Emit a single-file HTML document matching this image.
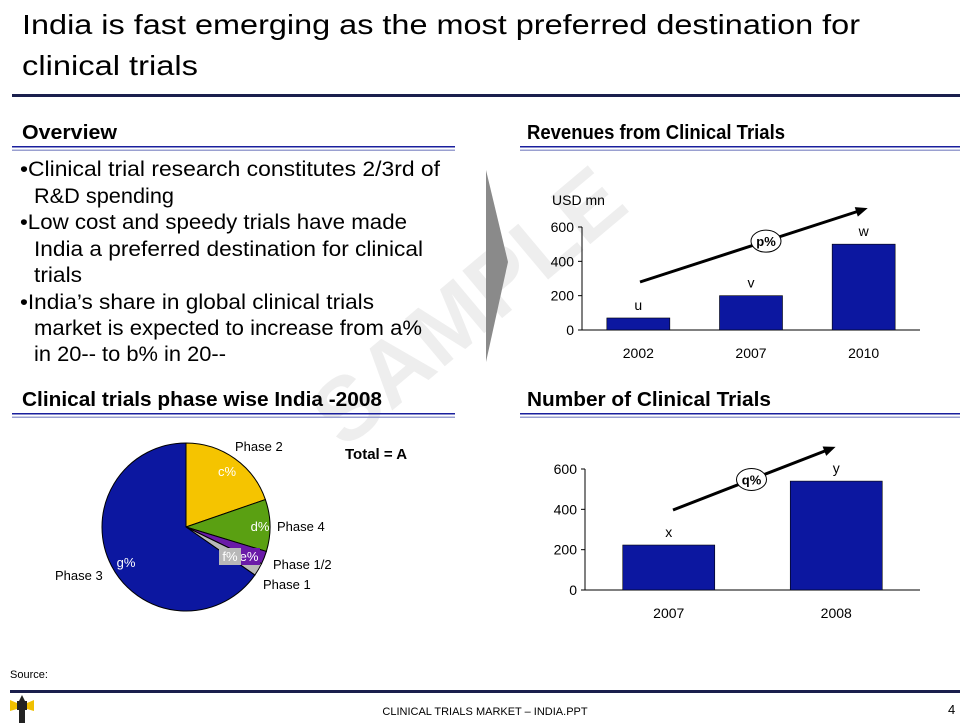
<!DOCTYPE html>
<html><head><meta charset="utf-8"><style>
body{margin:0;background:#fff}
svg{display:block;font-family:"Liberation Sans",sans-serif}
.c{font-family:"Liberation Sans Narrow","Liberation Sans",sans-serif}
</style></head><body>
<svg id="s" width="971" height="728" viewBox="0 0 971 728" xmlns="http://www.w3.org/2000/svg">
<text x="488" y="330" transform="rotate(-40 488 330)" text-anchor="middle" font-size="90" font-weight="bold" fill="#eeeeee">SAMPLE</text>
<text x="22" y="34" font-size="28" textLength="838" lengthAdjust="spacingAndGlyphs" fill="#000">India is fast emerging as the most preferred destination for</text>
<text x="22" y="75" font-size="28" textLength="176" lengthAdjust="spacingAndGlyphs" fill="#000">clinical trials</text>
<rect x="12" y="94" width="948" height="3" fill="#1a1f4d"/>

<text x="22" y="139" font-size="20" font-weight="bold" textLength="95" lengthAdjust="spacingAndGlyphs">Overview</text>
<text x="527" y="139" font-size="20" font-weight="bold" textLength="258" lengthAdjust="spacingAndGlyphs">Revenues from Clinical Trials</text>
<text x="22" y="406" font-size="20" font-weight="bold" textLength="360" lengthAdjust="spacingAndGlyphs">Clinical trials phase wise India -2008</text>
<text x="527" y="406" font-size="20" font-weight="bold" textLength="244" lengthAdjust="spacingAndGlyphs">Number of Clinical Trials</text>
<g fill="#1a1f9d">
<rect x="12" y="146" width="443" height="1.5"/><rect x="12" y="149.5" width="443" height="1.5" fill="#9aa0d0"/>
<rect x="520" y="146" width="440" height="1.5"/><rect x="520" y="149.5" width="440" height="1.5" fill="#9aa0d0"/>
<rect x="12" y="413" width="443" height="1.5"/><rect x="12" y="416.5" width="443" height="1.5" fill="#9aa0d0"/>
<rect x="520" y="413" width="440" height="1.5"/><rect x="520" y="416.5" width="440" height="1.5" fill="#9aa0d0"/>
</g>

<g font-size="21" fill="#000">
<text x="20" y="176" textLength="420" lengthAdjust="spacingAndGlyphs">•Clinical trial research constitutes 2/3rd of</text>
<text x="34" y="203" textLength="140" lengthAdjust="spacingAndGlyphs">R&amp;D spending</text>
<text x="20" y="229" textLength="387" lengthAdjust="spacingAndGlyphs">•Low cost and speedy trials have made</text>
<text x="34" y="256" textLength="389" lengthAdjust="spacingAndGlyphs">India a preferred destination for clinical</text>
<text x="34" y="282" textLength="48" lengthAdjust="spacingAndGlyphs">trials</text>
<text x="20" y="309" textLength="354" lengthAdjust="spacingAndGlyphs">•India’s share in global clinical trials</text>
<text x="34" y="335" textLength="388" lengthAdjust="spacingAndGlyphs">market is expected to increase from a%</text>
<text x="34" y="361" textLength="192" lengthAdjust="spacingAndGlyphs">in 20-- to b% in 20--</text>
</g>
<polygon points="486,170 508,262 486,362" fill="#8a8a8a"/>

<g id="rev"></g>
<g id="num"></g>
<g id="pie"></g>
<text x="345" y="459" font-size="15" font-weight="bold">Total = A</text>

<text x="10" y="678" font-size="11" class="c">Source:</text>
<rect x="10" y="690" width="950" height="3" fill="#1a1f4d"/>
<g><polygon points="10,700 17,703 17,709 10,711" fill="#f0c000"/><polygon points="34,700 27,703 27,709 34,711" fill="#f0c000"/><rect x="17" y="701" width="10" height="9" fill="#222"/><rect x="19" y="710" width="6" height="13" fill="#222"/><polygon points="22,695 19,701 25,701" fill="#222"/></g>
<text x="485" y="715" font-size="11" text-anchor="middle" class="c">CLINICAL TRIALS MARKET – INDIA.PPT</text>
<text x="948" y="714" font-size="13">4</text>
</svg>
<script>
const NS="http://www.w3.org/2000/svg";
const revCats=["2002","2007","2010"];
const revVals=[70,200,500];
const revLabels=["u","v","w"];
const revTicks=[0,200,400,600];
const numCats=["2007","2008"];
const numVals=[223,540];
const numLabels=["x","y"];
const numTicks=[0,200,400,600];
const pieNames=["Phase 2","Phase 4","Phase 1/2","Phase 1","Phase 3"];
const pieVals=[19.7,10,2.5,2.5,65.3];
const pieLabels=["c%","d%","e%","f%","g%"];
function mk(p,t,a,txt){const e=document.createElementNS(NS,t);for(const k in a)e.setAttribute(k,a[k]);if(txt!=null)e.textContent=txt;p.appendChild(e);return e;}
function bar(g,o){
 const y=v=>o.y0-(v/o.max)*(o.y0-o.y1);
 const ax=mk(g,'line',{x1:o.ax,y1:y(o.max),x2:o.ax,y2:o.y0,stroke:'#000'});
 
 const xa=mk(g,'line',{x1:o.ax,y1:o.y0,x2:o.xEnd,y2:o.y0,stroke:'#000'});
 
 o.ticks.forEach(t=>{mk(g,'line',{x1:o.ax-4,x2:o.ax,y1:y(t),y2:y(t),stroke:'#000'});
  const l=mk(g,'text',{x:o.ax-8,y:y(t)+5,'text-anchor':'end','font-size':14,'class':o.cls},t);
  });
 const step=(o.xEnd-o.ax)/o.cats.length;
 o.cats.forEach((c,i)=>{const cx=o.ax+step*(i+0.5);
  const r=mk(g,'rect',{x:cx-o.bw/2,y:y(o.vals[i]),width:o.bw,height:o.y0-y(o.vals[i]),fill:'#0c17a0',stroke:'#000','stroke-width':0.6});
  
  const vl=mk(g,'text',{x:cx,y:y(o.vals[i])-8,'text-anchor':'middle','font-size':14,'class':o.cls},o.labels[i]);
  
  const xl=mk(g,'text',{x:cx,y:o.y0+28,'text-anchor':'middle','font-size':14,'class':o.cls},c);
  });
 const ar=mk(g,'line',{x1:o.arrow[0],y1:o.arrow[1],x2:o.arrow[2],y2:o.arrow[3],stroke:'#000','stroke-width':3});
 
 const dx=o.arrow[2]-o.arrow[0],dy=o.arrow[3]-o.arrow[1],L=Math.hypot(dx,dy),ux=dx/L,uy=dy/L;
 const hx=o.arrow[2]+ux*6,hy=o.arrow[3]+uy*6;
 mk(g,'polygon',{points:`${hx},${hy} ${hx-ux*12-uy*5},${hy-uy*12+ux*5} ${hx-ux*12+uy*5},${hy-uy*12-ux*5}`,fill:'#000'});
 const mx=(o.arrow[0]+o.arrow[2])/2+o.off,my=(o.arrow[1]+o.arrow[3])/2-o.off*dy/dx*-1;
 const cy=o.arrow[1]+dy*((mx-o.arrow[0])/dx);
 const el=mk(g,'ellipse',{cx:mx,cy:cy,rx:15,ry:11,fill:'#fff',stroke:'#000'});
 
 mk(g,'text',{x:mx,y:cy+5,'text-anchor':'middle','font-size':13,'font-weight':'bold'},o.badge);
}
bar(document.getElementById('rev'),{ax:582,xEnd:920,y0:330,y1:227,max:600,ticks:revTicks,cats:revCats,vals:revVals,labels:revLabels,bw:63,arrow:[640,282,862,210],off:15,badge:'p%',cls:''});
mk(document.getElementById('rev'),'text',{x:552,y:205,'font-size':14},'USD mn');
bar(document.getElementById('num'),{ax:585,xEnd:920,y0:590,y1:469,max:600,ticks:numTicks,cats:numCats,vals:numVals,labels:numLabels,bw:92,arrow:[673,510,830,449],off:0,badge:'q%',cls:'c'});
(function(){
 const g=document.getElementById('pie'),cx=186,cy=527,r=84;
 const cols=['#f5c400','#5aa012','#6a1aa8','#b8b8b8','#0c17a0'];
 const tot=pieVals.reduce((a,b)=>a+b,0);let a0=0;
 const pt=(a,rr)=>[cx+rr*Math.sin(a),cy-rr*Math.cos(a)];
 pieVals.forEach((v,i)=>{const a1=a0+v/tot*2*Math.PI;const p0=pt(a0,r),p1=pt(a1,r);
  const s=mk(g,'path',{d:`M${cx},${cy}L${p0[0]},${p0[1]}A${r},${r} 0 ${a1-a0>Math.PI?1:0} 1 ${p1[0]},${p1[1]}Z`,fill:cols[i],stroke:'#000','stroke-width':1});
  
  a0=a1;});
 const lab=[[227,476,'#fff'],[260,531,'#fff'],[249,561,'#fff'],[230,561,'#fff'],[126,567,'#fff']];
 const bg=[null,null,'#6a1aa8','#b8b8b8',null];
 lab.forEach((l,i)=>{if(bg[i])mk(g,'rect',{x:l[0]-11,y:l[1]-13,width:22,height:17,fill:bg[i]});
  const t=mk(g,'text',{x:l[0],y:l[1],'text-anchor':'middle','font-size':13,fill:l[2],'class':'c'},pieLabels[i]);
  });
 const nl=[[235,451],[277,531],[273,569],[263,589],[55,580]];
 nl.forEach((l,i)=>{const t=mk(g,'text',{x:l[0],y:l[1],'font-size':13,'class':'c'},pieNames[i]);
  });
})();
</script>
</body></html>
